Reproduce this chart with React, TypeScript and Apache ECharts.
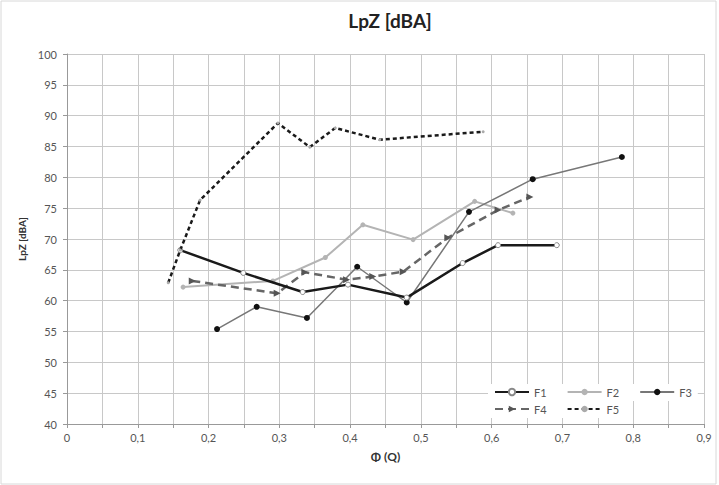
import React, { useEffect, useRef } from "react";
import * as echarts from "echarts";

const title = "LpZ [dBA]";
const xName = "Φ (Q)";
const yName = "LpZ [dBA]";

const f1: number[][] = [[0.16, 68.2], [0.249, 64.5], [0.333, 61.4], [0.397, 62.6], [0.48, 60.5], [0.559, 66.1], [0.609, 69.0], [0.692, 69.0]];
const f2: number[][] = [[0.164, 62.2], [0.291, 63.2], [0.365, 67.0], [0.418, 72.3], [0.489, 69.9], [0.576, 76.1], [0.63, 74.2]];
const f3: number[][] = [[0.212, 55.4], [0.268, 59.0], [0.339, 57.2], [0.41, 65.5], [0.48, 59.7], [0.568, 74.4], [0.658, 79.7], [0.784, 83.3]];
const f4: number[][] = [[0.177, 63.2], [0.297, 61.2], [0.336, 64.6], [0.395, 63.4], [0.432, 63.9], [0.475, 64.7], [0.538, 70.2], [0.609, 74.7], [0.654, 76.8]];
const f5: number[][] = [[0.143, 62.9], [0.16, 68.2], [0.188, 76.3], [0.298, 88.8], [0.343, 84.9], [0.379, 88.0], [0.442, 86.1], [0.588, 87.4]];

const FONT = "Lato, 'Open Sans', sans-serif";

export default function App() {
  const ref = useRef<HTMLDivElement>(null);
  useEffect(() => {
    const chart = echarts.init(ref.current!, null, { renderer: "svg" });
    const legendText = { fontSize: 11, color: "#555", fontFamily: FONT, lineHeight: 12 };
    chart.setOption({
      animation: false,
      backgroundColor: "#fff",
      textStyle: { fontFamily: FONT },
      title: {
        text: title,
        left: 385,
        top: 6,
        textAlign: "center",
        textStyle: { fontSize: 19, fontWeight: "bold", color: "#222", fontFamily: FONT },
      },
      grid: { left: 67, right: 15, top: 54, bottom: 61 },
      graphic: [
        {
          type: "rect",
          shape: { x: 1, y: 1, width: 715, height: 483 },
          style: { fill: "none", stroke: "#d8d8d8", lineWidth: 1 },
          silent: true,
        },
      ],
      legend: [
        {
          left: 488,
          top: 384,
          itemWidth: 34,
          itemHeight: 8,
          itemGap: 20,
          padding: [2, 6, 3, 6],
          backgroundColor: "#fff",
          textStyle: legendText,
          data: ["F1", "F2", "F3"],
        },
        {
          left: 488,
          top: 401,
          itemWidth: 34,
          itemHeight: 8,
          itemGap: 20,
          padding: [2, 6, 3, 6],
          backgroundColor: "#fff",
          textStyle: legendText,
          data: ["F4", "F5"],
        },
      ],
      xAxis: {
        type: "value",
        min: 0,
        max: 0.9,
        interval: 0.1,
        name: xName,
        nameLocation: "middle",
        nameGap: 26,
        nameTextStyle: { fontSize: 12, fontWeight: "bold", color: "#333", fontFamily: FONT },
        axisLine: { show: true, lineStyle: { color: "#999" } },
        axisTick: { show: true, length: 4, lineStyle: { color: "#999" } },
        minorTick: { show: true, splitNumber: 2, length: 4, lineStyle: { color: "#999" } },
        axisLabel: {
          fontSize: 11,
          color: "#555",
          margin: 8,
          formatter: (v: number) => (v === 0 ? "0" : v.toFixed(1).replace(".", ",")),
        },
        splitLine: { show: true, lineStyle: { color: "#c8c8c8", width: 1 } },
        minorSplitLine: { show: true, lineStyle: { color: "#c8c8c8", width: 1 } },
      },
      yAxis: {
        type: "value",
        min: 40,
        max: 100,
        interval: 5,
        name: yName,
        nameLocation: "middle",
        nameGap: 38,
        nameTextStyle: { fontSize: 10, fontWeight: "bold", color: "#333", fontFamily: FONT },
        axisLine: { show: true, lineStyle: { color: "#999" } },
        axisTick: { show: true, length: 4, lineStyle: { color: "#999" } },
        axisLabel: { fontSize: 11, color: "#555", margin: 10 },
        splitLine: { show: true, lineStyle: { color: "#c8c8c8", width: 1 } },
      },
      series: [
        {
          name: "F1",
          type: "line",
          data: f1,
          symbol: "circle",
          symbolSize: 5,
          lineStyle: { color: "#1a1a1a", width: 2.5 },
          itemStyle: { color: "#fff", borderColor: "#888", borderWidth: 1 },
          z: 5,
        },
        {
          name: "F2",
          type: "line",
          data: f2,
          symbol: "circle",
          symbolSize: 5,
          lineStyle: { color: "#b4b4b4", width: 2 },
          itemStyle: { color: "#b4b4b4" },
          z: 3,
        },
        {
          name: "F3",
          type: "line",
          data: f3,
          symbol: "circle",
          symbolSize: 6,
          lineStyle: { color: "#777", width: 1.5 },
          itemStyle: { color: "#111" },
          z: 4,
        },
        {
          name: "F4",
          type: "line",
          data: f4,
          symbol: "triangle",
          symbolRotate: -90,
          symbolSize: 7,
          lineStyle: { color: "#666", width: 2.5, type: [8, 5] },
          itemStyle: { color: "#555" },
          z: 4,
        },
        {
          name: "F5",
          type: "line",
          data: f5,
          symbol: "circle",
          symbolSize: 3,
          lineStyle: { color: "#1a1a1a", width: 2.5, type: [4, 3] },
          itemStyle: { color: "#aaa" },
          z: 6,
        },
      ],
    });
    return () => chart.dispose();
  }, []);
  return (
    <div
      ref={ref}
      style={{ position: "fixed", left: 0, top: 0, width: 719, height: 485 }}
    />
  );
}
